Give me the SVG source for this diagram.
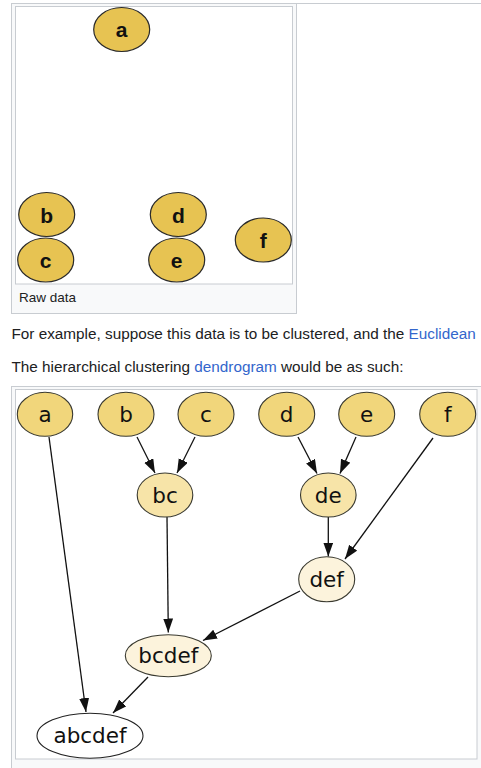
<svg xmlns="http://www.w3.org/2000/svg" width="481" height="768" viewBox="0 0 481 768">
<style>
.frame{fill:#f8f9fa;stroke:#c8ccd1;stroke-width:1}
.img{fill:#ffffff;stroke:#c8ccd1;stroke-width:1}
.raw{fill:#e7c352;stroke:#2a2a2a;stroke-width:1.2}
.rawt{font-family:"Liberation Sans",Arial,sans-serif;font-weight:bold;font-size:21px;fill:#111;text-anchor:middle}
.body{font-family:"Liberation Sans",Arial,sans-serif;font-size:15.3px;fill:#202122}
.link{fill:#3366cc}
.cap{font-family:"Liberation Sans",Arial,sans-serif;font-size:13.5px;fill:#202122}
.n1{fill:#f1d67b;stroke:#3a3a30;stroke-width:1.1}
.n2{fill:#f7e4a8;stroke:#3a3a30;stroke-width:1.1}
.n3{fill:#fcf3dc;stroke:#3a3a30;stroke-width:1.1}
.n4{fill:#ffffff;stroke:#222;stroke-width:1.1}
.nt{font-family:"DejaVu Sans",sans-serif;font-size:21.5px;fill:#111;text-anchor:middle}
.edge{stroke:#111;stroke-width:1.3;fill:none;marker-end:url(#arr)}
</style>
<defs>
<marker id="arr" markerUnits="userSpaceOnUse" markerWidth="15" markerHeight="11" refX="14" refY="5" orient="auto">
<path d="M0,0 L14,5 L0,10 z" fill="#111"/>
</marker>
</defs>
<rect width="481" height="768" fill="#ffffff"/>
<line x1="11" y1="3.5" x2="481" y2="3.5" stroke="#c8ccd1"/>
<g id="raw-figure">
<rect class="frame" x="11.5" y="3.5" width="285" height="310"/>
<rect class="img" x="15.5" y="6.5" width="277" height="277.5"/>
<text class="cap" x="19" y="302">Raw data</text>
</g>
<g id="raw-a"><ellipse class="raw" cx="121.7" cy="29.5" rx="28" ry="22"/><text class="rawt" x="121.7" y="37">a</text></g>
<g id="raw-b"><ellipse class="raw" cx="46.7" cy="214.5" rx="28" ry="22"/><text class="rawt" x="46.7" y="222.5">b</text></g>
<g id="raw-c"><ellipse class="raw" cx="45.7" cy="260" rx="28" ry="22"/><text class="rawt" x="45.7" y="267.5">c</text></g>
<g id="raw-d"><ellipse class="raw" cx="178.3" cy="214.5" rx="28" ry="22"/><text class="rawt" x="178.3" y="222.5">d</text></g>
<g id="raw-e"><ellipse class="raw" cx="176.7" cy="260" rx="28" ry="22"/><text class="rawt" x="176.7" y="267.5">e</text></g>
<g id="raw-f"><ellipse class="raw" cx="263.3" cy="240" rx="28" ry="22"/><text class="rawt" x="263.3" y="248">f</text></g>
<text class="body" x="11.5" y="339">For example, suppose this data is to be clustered, and the <tspan class="link">Euclidean</tspan></text>
<text class="body" x="11.5" y="372">The hierarchical clustering <tspan class="link">dendrogram</tspan> would be as such:</text>
<g id="dendro-figure">
<rect class="frame" x="11.5" y="386.5" width="475" height="400"/>
<rect class="img" x="15.5" y="389.5" width="461.5" height="369.5"/>
</g>
<g id="connectors">
<line class="edge" x1="49" y1="437" x2="86" y2="712"/>
<line class="edge" x1="137" y1="437" x2="155" y2="473"/>
<line class="edge" x1="195" y1="437" x2="177" y2="473"/>
<line class="edge" x1="298" y1="437" x2="317" y2="473.5"/>
<line class="edge" x1="356" y1="437" x2="340" y2="473.5"/>
<line class="edge" x1="433" y1="438" x2="345" y2="559"/>
<line class="edge" x1="328.3" y1="517" x2="328.3" y2="556.5"/>
<line class="edge" x1="167" y1="517" x2="168.3" y2="632.5"/>
<line class="edge" x1="300" y1="591" x2="203" y2="640.5"/>
<line class="edge" x1="148" y1="677" x2="113" y2="713"/>
</g>
<g id="a"><ellipse class="n1" cx="45" cy="414.3" rx="27.7" ry="22"/><text class="nt" x="45" y="421.8">a</text></g>
<g id="b"><ellipse class="n1" cx="126" cy="414.3" rx="28" ry="22"/><text class="nt" x="126" y="421.8">b</text></g>
<g id="c"><ellipse class="n1" cx="206" cy="414.3" rx="28" ry="22"/><text class="nt" x="206" y="421.8">c</text></g>
<g id="d"><ellipse class="n1" cx="286.7" cy="414.3" rx="28" ry="22"/><text class="nt" x="286.7" y="421.8">d</text></g>
<g id="e"><ellipse class="n1" cx="366.7" cy="414.3" rx="28" ry="22"/><text class="nt" x="366.7" y="421.8">e</text></g>
<g id="f"><ellipse class="n1" cx="447.7" cy="414.3" rx="28" ry="22"/><text class="nt" x="447.7" y="421.8">f</text></g>
<g id="bc"><ellipse class="n2" cx="165" cy="495" rx="27.8" ry="22"/><text class="nt" x="165" y="502.8">bc</text></g>
<g id="de"><ellipse class="n2" cx="328.3" cy="495" rx="27.8" ry="22"/><text class="nt" x="328.3" y="502.8">de</text></g>
<g id="def"><ellipse class="n3" cx="326.7" cy="579.3" rx="28" ry="22.5"/><text class="nt" x="326.7" y="587">def</text></g>
<g id="bcdef"><ellipse class="n3" cx="168.3" cy="655.7" rx="43" ry="21"/><text class="nt" x="168.3" y="663.3">bcdef</text></g>
<g id="abcdef"><ellipse class="n4" cx="90" cy="735.7" rx="53" ry="22.5"/><text class="nt" x="90" y="743.3">abcdef</text></g>
</svg>
